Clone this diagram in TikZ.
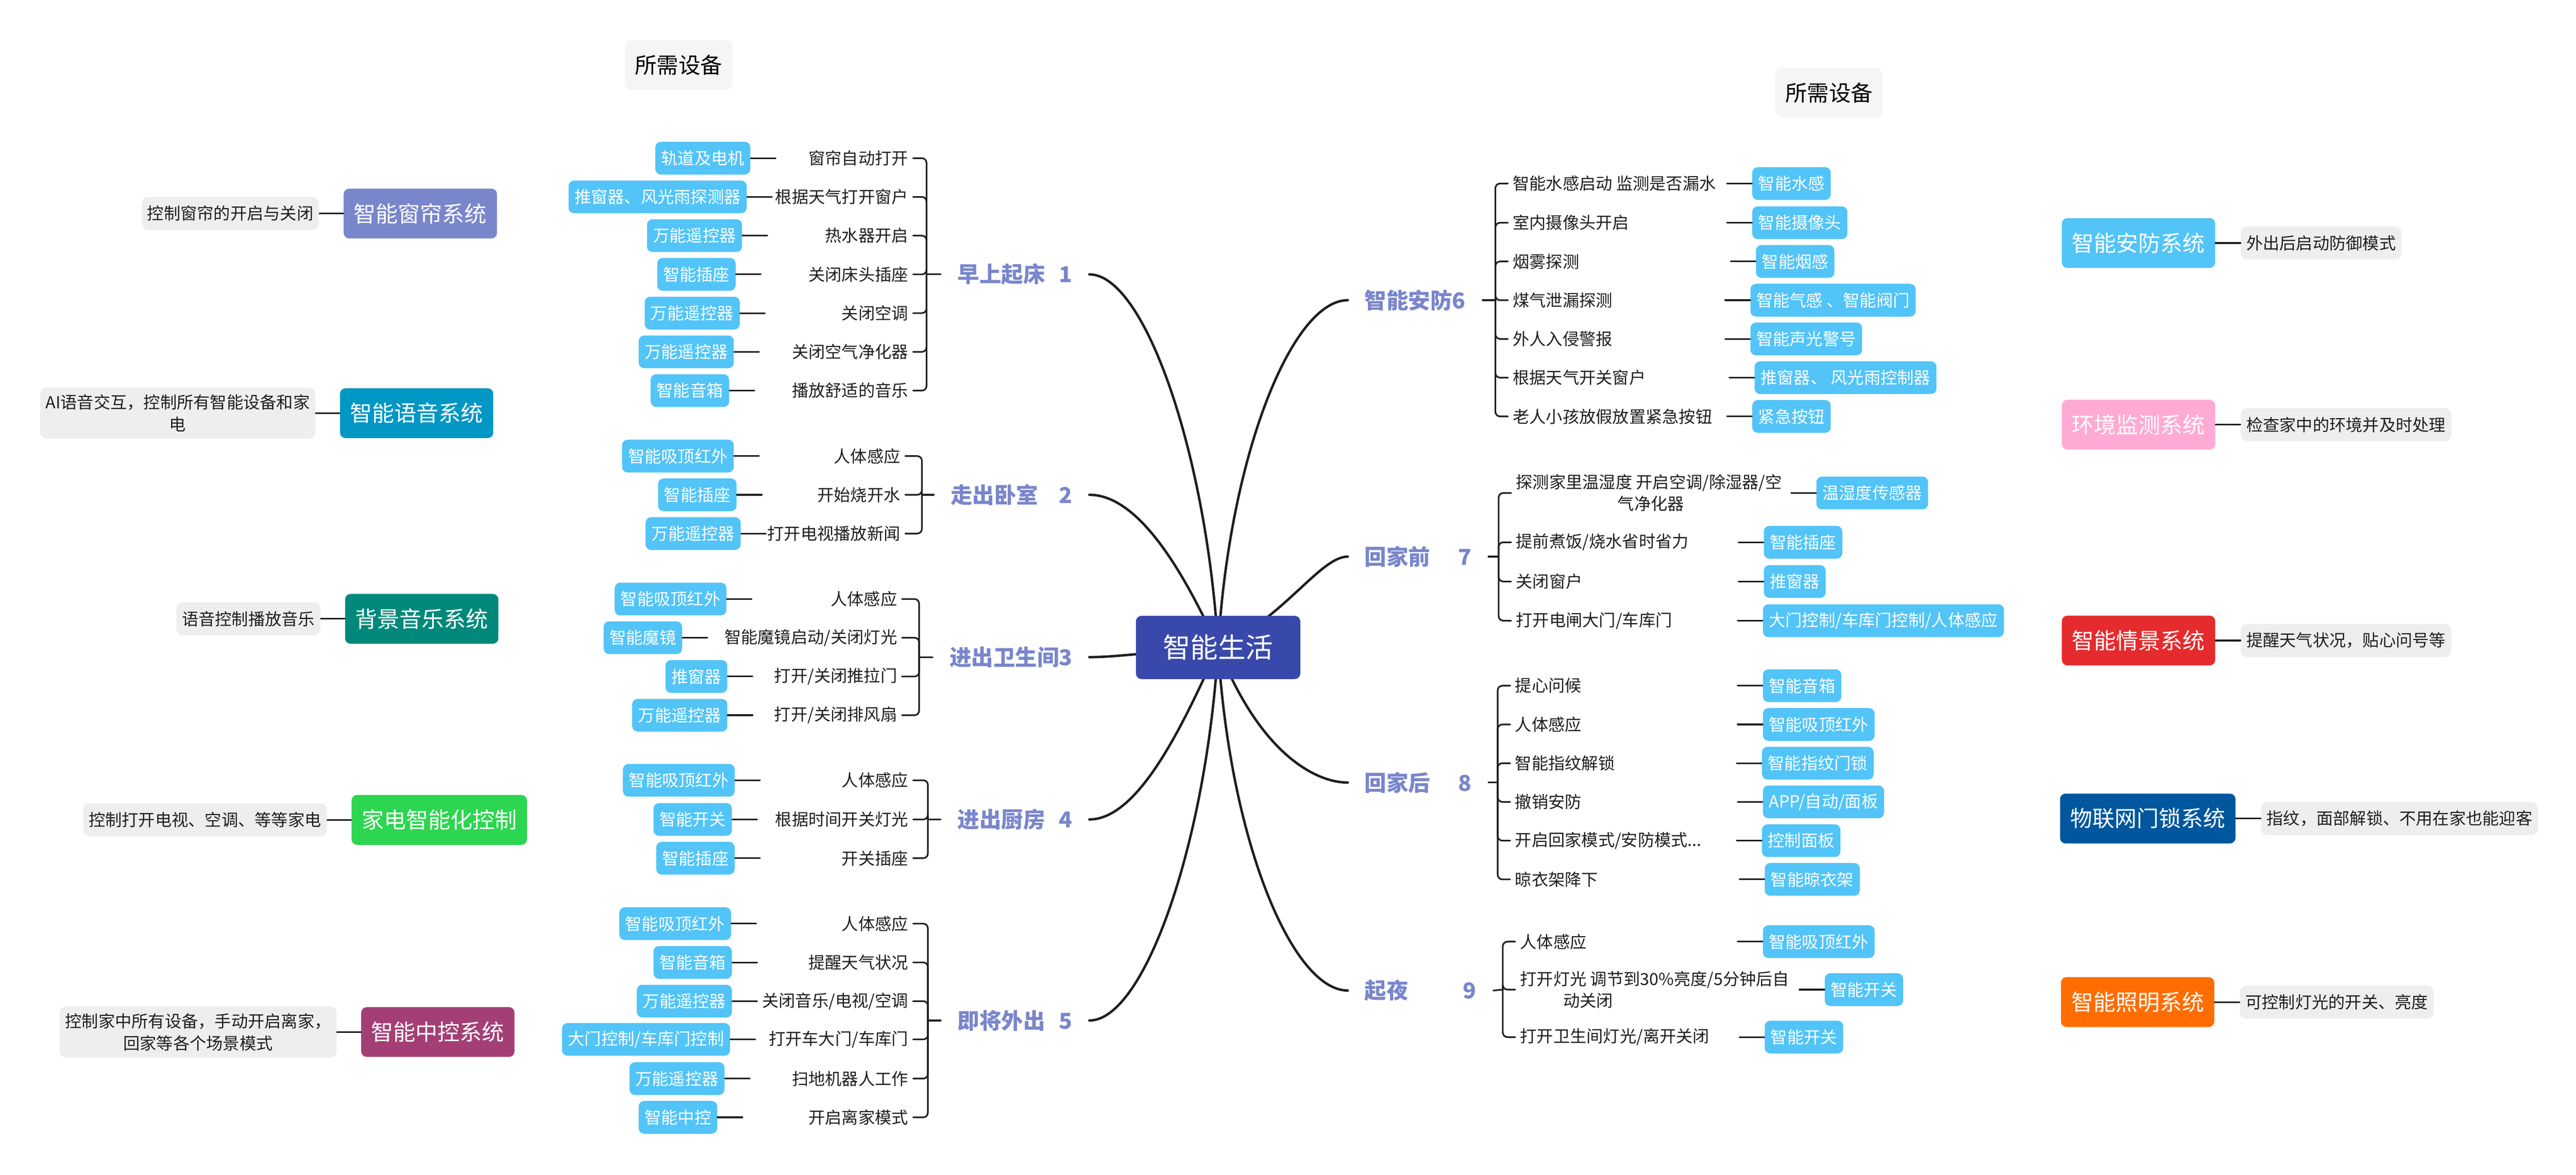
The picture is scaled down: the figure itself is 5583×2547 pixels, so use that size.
\documentclass[tikz,border=0pt]{standalone}
\usepackage{fontspec}
\setmainfont{Noto Sans CJK SC}
\usetikzlibrary{positioning}
\definecolor{devblue}{HTML}{52C4F7}
\definecolor{brpurple}{HTML}{7986CB}
\definecolor{hubblue}{HTML}{3949AB}
\definecolor{descgray}{HTML}{EEEEEE}
\definecolor{needgray}{HTML}{F5F5F5}
\definecolor{voiceblue}{HTML}{0097C4}
\definecolor{musicteal}{HTML}{00897B}
\definecolor{appgreen}{HTML}{2CD650}
\definecolor{ctrlplum}{HTML}{A43F76}
\definecolor{envpink}{HTML}{FFAAD4}
\definecolor{scenered}{HTML}{E52B2E}
\definecolor{lockblue}{HTML}{00579E}
\definecolor{lightorange}{HTML}{FF6D00}
\definecolor{inkblack}{HTML}{1E1E1E}
\tikzset{
  dev/.style={fill=devblue,text=white,rounded corners=0.12cm,minimum height=0.71cm,
    inner xsep=0.13cm,inner ysep=0pt,font=\fontsize{10.24}{13.5}\selectfont},
  act/.style={text=inkblack,inner xsep=0.1cm,inner ysep=0pt,font=\fontsize{10.24}{13.4}\selectfont},
  actl/.style={act,align=right},
  actr/.style={act,align=left},
  br/.style={text=brpurple,inner xsep=0.36cm,font=\fontsize{13.5}{16}\selectfont\bfseries},
  sys/.style={text=white,rounded corners=0.12cm,minimum height=1.08cm,inner xsep=0.22cm,
    font=\fontsize{13.66}{16}\selectfont},
  desc/.style={fill=descgray,text=inkblack,rounded corners=0.14cm,minimum height=0.72cm,
    inner xsep=0.12cm,inner ysep=0.15cm,align=center,font=\fontsize{10.24}{13.7}\selectfont},
  need/.style={fill=needgray,rounded corners=0.15cm,minimum width=2.33cm,minimum height=1.07cm,
    font=\fontsize{13.5}{16}\selectfont},
  hub/.style={fill=hubblue,text=white,rounded corners=0.12cm,minimum width=3.56cm,
    minimum height=1.37cm,font=\fontsize{17}{20}\selectfont},
  trunk/.style={line width=1.5pt,draw=inkblack},
  stub/.style={line width=1pt,draw=inkblack},
  brace/.style={line width=1pt,draw=inkblack,rounded corners=0.1cm}
}
\begin{document}
\begin{tikzpicture}[x=0.01cm,y=-0.01cm,line cap=round,line join=round]
\useasboundingbox (0,0) rectangle (5583,2547);
\node[need] (n1) at (1471,141) {所需设备};
\node[need] (n2) at (3964,201) {所需设备};
\coordinate (c) at (2640,1404);
% 早上起床
\coordinate (j1) at (2008,595);
\node[br,anchor=east] (l1) at (2361,595) {早上起床\hspace{0.3cm}1};
\draw[stub] (j1) -- (l1.west);
\foreach \yy/\bx/\dv/\tx [count=\i] in {343/1627/轨道及电机/窗帘自动打开,
    427/1619/推窗器、风光雨探测器/根据天气打开窗户, 511/1609/万能遥控器/热水器开启,
    595/1595/智能插座/关闭床头插座, 679/1604/万能遥控器/关闭空调,
    763/1591/万能遥控器/关闭空气净化器, 847/1581/智能音箱/播放舒适的音乐}{
  \node[actl,anchor=east] (g1\i) at (1979,\yy) {\tx};
  \node[dev,anchor=east] (d1\i) at (\bx,\yy) {\dv};
  \coordinate (e1\i) at ({\bx+54},\yy);
  \draw[stub] (d1\i) -- (e1\i);
  \draw[brace] (g1\i.east) -| (j1);
}
% 走出卧室
\coordinate (j2) at (1998,1073);
\node[br,anchor=east] (l2) at (2361,1073) {走出卧室\hspace{0.45cm}2};
\draw[stub] (j2) -- (l2.west);
\foreach \yy/\bx/\dv/\tx [count=\i] in {989/1591/智能吸顶红外/人体感应,
    1073/1597/智能插座/开始烧开水, 1157/1606/万能遥控器/打开电视播放新闻}{
  \node[actl,anchor=east] (g2\i) at (1962,\yy) {\tx};
  \node[dev,anchor=east] (d2\i) at (\bx,\yy) {\dv};
  \coordinate (e2\i) at ({\bx+54},\yy);
  \draw[stub] (d2\i) -- (e2\i);
  \draw[brace] (g2\i.east) -| (j2);
}
% 进出卫生间
\coordinate (j3) at (1992,1425);
\node[br,anchor=east] (l3) at (2361,1425) {进出卫生间3};
\draw[stub] (j3) -- (l3.west);
\foreach \yy/\bx/\dv/\tx [count=\i] in {1299/1575/智能吸顶红外/人体感应,
    1383/1479/智能魔镜/{智能魔镜启动/关闭灯光}, 1467/1577/推窗器/{打开/关闭推拉门},
    1551/1577/万能遥控器/{打开/关闭排风扇}}{
  \node[actl,anchor=east] (g3\i) at (1955,\yy) {\tx};
  \node[dev,anchor=east] (d3\i) at (\bx,\yy) {\dv};
  \coordinate (e3\i) at ({\bx+54},\yy);
  \draw[stub] (d3\i) -- (e3\i);
  \draw[brace] (g3\i.east) -| (j3);
}
% 进出厨房
\coordinate (j4) at (2011,1777);
\node[br,anchor=east] (l4) at (2361,1777) {进出厨房\hspace{0.3cm}4};
\draw[stub] (j4) -- (l4.west);
\foreach \yy/\bx/\dv/\tx [count=\i] in {1692/1593/智能吸顶红外/人体感应,
    1777/1587/智能开关/根据时间开关灯光, 1861/1593/智能插座/开关插座}{
  \node[actl,anchor=east] (g4\i) at (1979,\yy) {\tx};
  \node[dev,anchor=east] (d4\i) at (\bx,\yy) {\dv};
  \coordinate (e4\i) at ({\bx+54},\yy);
  \draw[stub] (d4\i) -- (e4\i);
  \draw[brace] (g4\i.east) -| (j4);
}
% 即将外出
\coordinate (j5) at (2011,2213);
\node[br,anchor=east] (l5) at (2361,2213) {即将外出\hspace{0.3cm}5};
\draw[stub] (j5) -- (l5.west);
\foreach \yy/\bx/\dv/\tx [count=\i] in {2003/1585/智能吸顶红外/人体感应,
    2087/1587/智能音箱/提醒天气状况, 2171/1587/万能遥控器/{关闭音乐/电视/空调},
    2254/1583/{大门控制/车库门控制}/{打开车大门/车库门},
    2339/1571/万能遥控器/扫地机器人工作, 2423/1555/智能中控/开启离家模式}{
  \node[actl,anchor=east] (g5\i) at (1979,\yy) {\tx};
  \node[dev,anchor=east] (d5\i) at (\bx,\yy) {\dv};
  \coordinate (e5\i) at ({\bx+54},\yy);
  \draw[stub] (d5\i) -- (e5\i);
  \draw[brace] (g5\i.east) -| (j5);
}
% 智能安防
\coordinate (j6) at (3241,651);
\node[br,anchor=west] (l6) at (2921,651) {智能安防6};
\draw[stub] (l6.east) -- (j6);
\foreach \yy/\bx/\dv/\tx [count=\i] in {398/3797/智能水感/智能水感启动 监测是否漏水,
    483/3797/智能摄像头/室内摄像头开启, 567/3805/智能烟感/烟雾探测,
    651/3793/智能气感 、智能阀门/煤气泄漏探测, 735/3793/智能声光警号/外人入侵警报,
    819/3802/推窗器、 风光雨控制器/根据天气开关窗户, 903/3797/紧急按钮/老人小孩放假放置紧急按钮}{
  \node[actr,anchor=west] (g6\i) at (3268,\yy) {\tx};
  \node[dev,anchor=west] (d6\i) at (\bx,\yy) {\dv};
  \coordinate (e6\i) at ({\bx-54},\yy);
  \draw[stub] (e6\i) -- (d6\i);
  \draw[brace] (j6) |- (g6\i.west);
}
% 回家前
\coordinate (j7) at (3248,1207);
\node[br,anchor=west] (l7) at (2921,1207) {回家前\hspace{0.6cm}7};
\draw[stub] (l7.east) -- (j7);
\foreach \yy/\bx/\dv/\tx [count=\i] in {1069/3936/温湿度传感器/{探测家里温湿度 开启空调/除湿器/空\\\hspace*{2.2cm}气净化器},
    1176/3822/智能插座/{提前煮饭/烧水省时省力}, 1261/3822/推窗器/关闭窗户,
    1346/3820/{大门控制/车库门控制/人体感应}/{打开电闸大门/车库门}}{
  \node[actr,anchor=west] (g7\i) at (3275,\yy) {\tx};
  \node[dev,anchor=west] (d7\i) at (\bx,\yy) {\dv};
  \coordinate (e7\i) at ({\bx-54},\yy);
  \draw[stub] (e7\i) -- (d7\i);
  \draw[brace] (j7) |- (g7\i.west);
}
% 回家后
\coordinate (j8) at (3246,1697);
\node[br,anchor=west] (l8) at (2921,1697) {回家后\hspace{0.6cm}8};
\draw[stub] (l8.east) -- (j8);
\foreach \yy/\bx/\dv/\tx [count=\i] in {1487/3820/智能音箱/提心问候,
    1571/3820/智能吸顶红外/人体感应, 1655/3818/智能指纹门锁/智能指纹解锁,
    1739/3820/{APP/自动/面板}/撤销安防, 1823/3818/控制面板/{开启回家模式/安防模式...},
    1907/3824/智能晾衣架/晾衣架降下}{
  \node[actr,anchor=west] (g8\i) at (3273,\yy) {\tx};
  \node[dev,anchor=west] (d8\i) at (\bx,\yy) {\dv};
  \coordinate (e8\i) at ({\bx-54},\yy);
  \draw[stub] (e8\i) -- (d8\i);
  \draw[brace] (j8) |- (g8\i.west);
}
% 起夜
\coordinate (j9) at (3257,2146);
\node[br,anchor=west] (l9) at (2921,2148) {起夜\hspace{1.18cm}9};
\draw[stub] (l9.east) -- (j9);
\foreach \yy/\bx/\dv/\tx [count=\i] in {2042/3820/智能吸顶红外/人体感应,
    2146/3954/智能开关/{打开灯光 调节到30\%亮度/5分钟后自\\\hspace*{0.93cm}动关闭},
    2249/3824/智能开关/{打开卫生间灯光/离开关闭}}{
  \node[actr,anchor=west] (g9\i) at (3284,\yy) {\tx};
  \node[dev,anchor=west] (d9\i) at (\bx,\yy) {\dv};
  \coordinate (e9\i) at ({\bx-54},\yy);
  \draw[stub] (e9\i) -- (d9\i);
  \draw[brace] (j9) |- (g9\i.west);
}
% curves to the centre
\draw[trunk] (l1.east) .. controls +(120,0) and +(-25,-420) .. (c);
\draw[trunk] (l2.east) .. controls +(110,0) and +(-70,-154) .. (c);
\draw[trunk] (l3.east) .. controls +(60,0) and +(-150,10) .. (c);
\draw[trunk] (l4.east) .. controls +(110,0) and +(-70,154) .. (c);
\draw[trunk] (l5.east) .. controls +(120,0) and +(-25,420) .. (c);
\draw[trunk] (l6.west) .. controls +(-120,0) and +(25,-420) .. (c);
\draw[trunk] (l7.west) .. controls +(-60,0) and +(140,-60) .. (c);
\draw[trunk] (l8.west) .. controls +(-70,0) and +(90,230) .. (c);
\draw[trunk] (l9.west) .. controls +(-120,0) and +(25,420) .. (c);
\node[hub] (hub) at (c) {智能生活};
% systems, left
\node[sys,fill=brpurple] (s1) at (911,463) {智能窗帘系统};
\node[desc,left=0.52cm of s1] (c1) {控制窗帘的开启与关闭};
\node[sys,fill=voiceblue] (s2) at (903,896) {智能语音系统};
\node[desc,left=0.52cm of s2] (c2) {AI语音交互，控制所有智能设备和家\\电};
\node[sys,fill=musicteal] (s3) at (914,1342) {背景音乐系统};
\node[desc,left=0.52cm of s3] (c3) {语音控制播放音乐};
\node[sys,fill=appgreen] (s4) at (952,1778) {家电智能化控制};
\node[desc,left=0.52cm of s4] (c4) {控制打开电视、空调、等等家电};
\node[sys,fill=ctrlplum] (s5) at (949,2238) {智能中控系统};
\node[desc,left=0.52cm of s5] (c5) {控制家中所有设备，手动开启离家，\\回家等各个场景模式};
\foreach \i in {1,...,5}{
  \draw[stub] (c\i) -- (s\i);
}
% systems, right
\node[sys,fill=devblue,anchor=west] (s6) at (4468,527) {智能安防系统};
\node[desc,right=0.54cm of s6] (c6) {外出后启动防御模式};
\node[sys,fill=envpink,anchor=west] (s7) at (4468,921) {环境监测系统};
\node[desc,right=0.54cm of s7] (c7) {检查家中的环境并及时处理};
\node[sys,fill=scenered,anchor=west] (s8) at (4468,1389) {智能情景系统};
\node[desc,right=0.54cm of s8] (c8) {提醒天气状况，贴心问号等};
\node[sys,fill=lockblue,anchor=west] (s9) at (4464,1775) {物联网门锁系统};
\node[desc,right=0.54cm of s9] (c9) {指纹，面部解锁、不用在家也能迎客};
\node[sys,fill=lightorange,anchor=west] (s10) at (4466,2173) {智能照明系统};
\node[desc,right=0.54cm of s10] (c10) {可控制灯光的开关、亮度};
\foreach \i in {6,...,10}{
  \draw[stub] (s\i) -- (c\i);
}
\end{tikzpicture}
\end{document}
